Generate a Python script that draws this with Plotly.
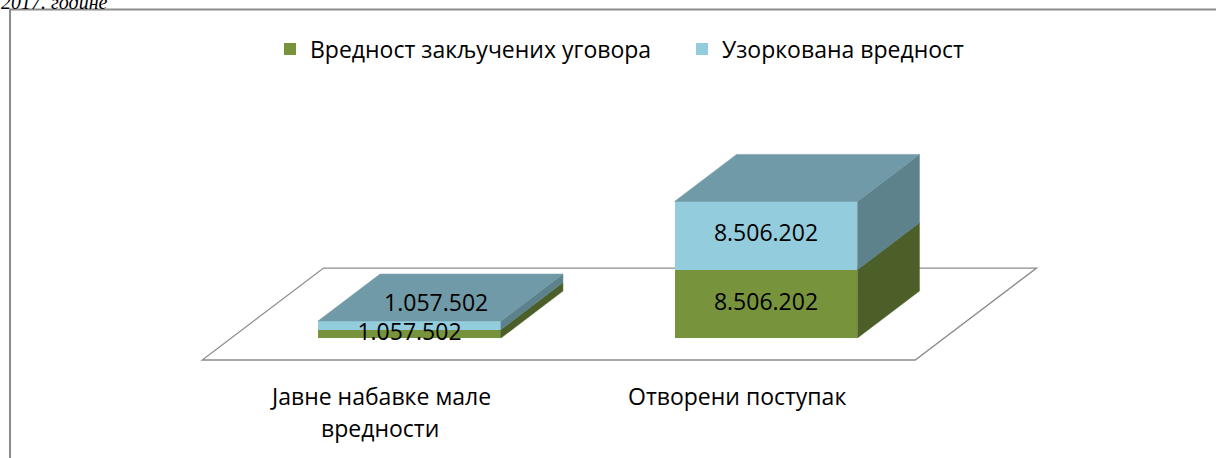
import plotly.graph_objects as go

# ---------------- data ----------------
categories = ["Јавне набавке мале<br>вредности", "Отворени поступак"]
series_names = ["Вредност закључених уговора", "Узоркована вредност"]
contract_values = [1057502, 8506202]
sampled_values = [1057502, 8506202]
caption = "2017. године"

# ---------------- styling ----------------
W, H = 1216, 458
FONT = "Open Sans"
front_colors = ["#77933C", "#93CDDD"]
side_colors = ["#4D5F28", "#5D828C"]
top_color = "#709AA7"
floor_line = "#8C8C8C"

X_RANGE = [-1.1487, 2.2623]
Y_RANGE = [-14.94e6, 42.09e6]
BAR_W = 0.513
DEPTH_PX = (62.0, 47.0)          # oblique offset of unit depth, pixels
FLOOR_DEPTH = (-0.468, 1.489)    # floor extent in depth units

sx = W / (X_RANGE[1] - X_RANGE[0])
sy = H / (Y_RANGE[1] - Y_RANGE[0])
dux = DEPTH_PX[0] / sx
duy = DEPTH_PX[1] / sy


def proj(x, v, d):
    return x + d * dux, v + d * duy


def fmt(v):
    return f"{v:,}".replace(",", ".")


xpos = list(range(len(categories)))
series = [contract_values, sampled_values]

fig = go.Figure()

# front faces (real bars)
for k, vals in enumerate(series):
    fig.add_trace(go.Bar(
        x=xpos, y=vals, name=series_names[k], width=BAR_W,
        marker=dict(color=front_colors[k], line=dict(width=0)),
        hoverinfo="skip",
    ))

# side and top faces
lab_x, lab_y, lab_t = [], [], []
for i, xc in enumerate(xpos):
    xl, xr = xc - BAR_W / 2, xc + BAR_W / 2
    base = 0
    for k, vals in enumerate(series):
        top = base + vals[i]
        pts = [proj(xr, base, 0), proj(xr, top, 0), proj(xr, top, 1), proj(xr, base, 1), proj(xr, base, 0)]
        fig.add_trace(go.Scatter(
            x=[p[0] for p in pts], y=[p[1] for p in pts], mode="lines",
            fill="toself", fillcolor=side_colors[k],
            line=dict(width=0.5, color=side_colors[k]),
            showlegend=False, hoverinfo="skip",
        ))
        seg_px = vals[i] * sy
        d = 0.0
        if k > 0 and seg_px < 25:
            d = 0.43
        px_, py_ = proj(xc, (base + top) / 2, d)
        lab_x.append(px_)
        lab_y.append(py_)
        lab_t.append(fmt(vals[i]))
        base = top
    pts = [proj(xl, base, 0), proj(xr, base, 0), proj(xr, base, 1), proj(xl, base, 1), proj(xl, base, 0)]
    fig.add_trace(go.Scatter(
        x=[p[0] for p in pts], y=[p[1] for p in pts], mode="lines",
        fill="toself", fillcolor=top_color,
        line=dict(width=0.5, color=top_color),
        showlegend=False, hoverinfo="skip",
    ))

fig.add_trace(go.Scatter(
    x=lab_x, y=lab_y, text=lab_t, mode="text", textposition="middle center",
    textfont=dict(family=FONT, size=23, color="#000000"),
    showlegend=False, hoverinfo="skip",
))

# floor (below everything)
fx0, fx1 = xpos[0] - 0.5, xpos[-1] + 0.5
corners = [proj(fx0, 0, FLOOR_DEPTH[0]), proj(fx1, 0, FLOOR_DEPTH[0]),
           proj(fx1, 0, FLOOR_DEPTH[1]), proj(fx0, 0, FLOOR_DEPTH[1])]
path = "M " + " L ".join(f"{x},{y}" for x, y in corners) + " Z"
shapes = [
    dict(type="path", path=path, xref="x", yref="y", layer="below",
         fillcolor="#FFFFFF", line=dict(color=floor_line, width=1.3)),
    dict(type="rect", xref="paper", yref="paper", x0=10 / W, x1=1.05,
         y0=1 - 9.5 / H, y1=-0.05, layer="below",
         line=dict(color="#8C8C8C", width=2), fillcolor="rgba(0,0,0,0)"),
]

annotations = []
LINE_PX = 32
for i, xc in enumerate(xpos):
    ax_, ay_ = proj(xc, 0, FLOOR_DEPTH[0])
    for j, line in enumerate(categories[i].split("<br>")):
        annotations.append(dict(
            x=ax_, y=ay_, xref="x", yref="y", text=line, showarrow=False,
            xanchor="center", yanchor="middle", yshift=-(36 + j * LINE_PX),
            font=dict(family=FONT, size=23, color="#000000"),
        ))
annotations.append(dict(
    x=-1 / W, y=1 - 15.5 / H, xref="paper", yref="paper",
    text="<i>" + caption + "</i>",
    showarrow=False, xanchor="left", yanchor="bottom",
    font=dict(family="Liberation Serif", size=20, color="#000000"),
))

fig.update_layout(
    width=W, height=H, autosize=False,
    margin=dict(l=0, r=0, t=0, b=0, pad=0),
    paper_bgcolor="#FFFFFF", plot_bgcolor="#FFFFFF",
    barmode="stack",
    xaxis=dict(range=X_RANGE, visible=False, fixedrange=True),
    yaxis=dict(range=Y_RANGE, visible=False, fixedrange=True),
    showlegend=True,
    legend=dict(orientation="h", x=270 / W, xanchor="left", y=1 - 49 / H,
                yanchor="middle", traceorder="normal",
                font=dict(family=FONT, size=23, color="#000000"),
                bgcolor="rgba(0,0,0,0)", entrywidth=367, entrywidthmode="pixels"),
    shapes=shapes,
    annotations=annotations,
    font=dict(family=FONT),
)

fig.write_html(
    "out.html",
    config={"displayModeBar": False},
    post_script="document.body.style.margin='0';document.body.style.overflow='hidden';",
)
